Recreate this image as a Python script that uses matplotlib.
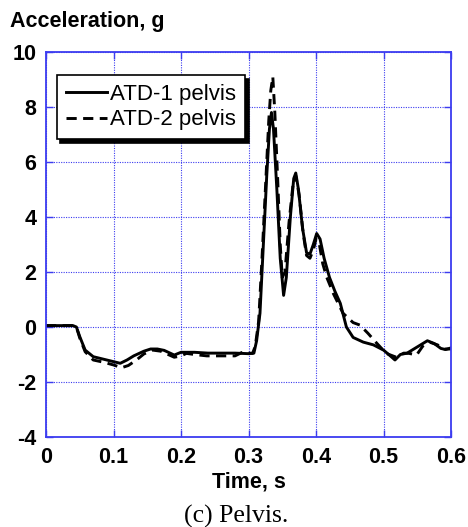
import matplotlib
matplotlib.use("Agg")
import matplotlib.pyplot as plt

# ---- data ----
t1 = [0, 0.04, 0.045, 0.05, 0.058, 0.07, 0.09, 0.11, 0.12, 0.13, 0.145, 0.155, 0.165,
      0.175, 0.19, 0.2, 0.22, 0.24, 0.26, 0.28, 0.3, 0.308, 0.312, 0.317, 0.322, 0.327,
      0.331, 0.334, 0.337, 0.342, 0.347, 0.352, 0.356, 0.362, 0.367, 0.370, 0.374, 0.380,
      0.386, 0.391, 0.396, 0.401, 0.406, 0.412, 0.42, 0.428, 0.436, 0.445, 0.455, 0.47,
      0.485, 0.5, 0.51, 0.517, 0.525, 0.535, 0.545, 0.555, 0.565, 0.575, 0.585, 0.592, 0.6]
atd1 = [0.05, 0.05, 0.0, -0.35, -0.84, -1.08, -1.2, -1.32, -1.2, -1.05, -0.88, -0.8, -0.8,
        -0.85, -1.02, -0.92, -0.92, -0.95, -0.95, -0.95, -0.97, -0.95, -0.5, 0.5, 3.0, 5.5,
        7.2, 7.8, 7.2, 5.0, 2.5, 1.15, 1.8, 4.0, 5.4, 5.6, 5.0, 3.6,
        2.7, 2.65, 3.0, 3.4, 3.2, 2.5, 1.8, 1.3, 0.86, 0.0, -0.38, -0.55,
        -0.65, -0.84, -1.05, -1.2, -1.0, -0.95, -0.8, -0.65, -0.5, -0.6, -0.78, -0.82, -0.76]

t2 = [0, 0.04, 0.045, 0.05, 0.058, 0.07, 0.085, 0.1, 0.112, 0.122, 0.134, 0.145, 0.158,
      0.17, 0.19, 0.2, 0.208, 0.22, 0.238, 0.26, 0.28, 0.29, 0.306, 0.31, 0.315, 0.32,
      0.325, 0.33, 0.333, 0.336, 0.339, 0.343, 0.347, 0.35, 0.354, 0.36, 0.366, 0.370,
      0.375, 0.381, 0.386, 0.391, 0.396, 0.400, 0.405, 0.41, 0.416, 0.426, 0.44, 0.455,
      0.465, 0.477, 0.49, 0.504, 0.519, 0.53, 0.538, 0.549, 0.558, 0.568, 0.58, 0.59, 0.6]
atd2 = [0.05, 0.05, 0.0, -0.4, -0.9, -1.2, -1.28, -1.38, -1.48, -1.4, -1.2, -0.98, -0.84,
        -0.88, -1.1, -1.05, -0.96, -1.0, -1.05, -1.05, -1.05, -0.93, -0.96, -0.7, 0.2, 2.5,
        5.0, 7.5, 8.6, 9.1, 7.8, 5.5, 3.0, 1.8, 2.0, 3.8, 5.2, 5.5,
        4.8, 3.4, 2.6, 2.5, 2.8, 3.2, 3.0, 2.3, 1.8, 1.2, 0.5, 0.16,
        0.07, -0.23, -0.59, -0.96, -1.1, -0.95, -0.96, -1.02, -0.7, -0.55, -0.65, -0.8, -0.8]

labels = ["ATD-1 pelvis", "ATD-2 pelvis"]
xticks = [0, 0.1, 0.2, 0.3, 0.4, 0.5, 0.6]
xticklabels = ["0", "0.1", "0.2", "0.3", "0.4", "0.5", "0.6"]
yticks = [-4, -2, 0, 2, 4, 6, 8, 10]

# ---- figure ----
plt.rcParams['font.family'] = ['Liberation Sans', 'DejaVu Sans']
plt.rcParams['axes.unicode_minus'] = False
blue = '#3c3cf0'

fig = plt.figure(figsize=(4.68, 5.27), dpi=100)
ax = fig.add_axes([0.0983, 0.1708, 0.8654, 0.7305])

ax.plot(t1, atd1, color='black', lw=2.1, label=labels[0])
ax.plot(t2, atd2, color='black', lw=2.1, ls=(0, (3.5, 2.2)), label=labels[1])

ax.set_xlim(0, 0.6)
ax.set_ylim(-4, 10)
ax.set_xticks(xticks)
ax.set_xticklabels(xticklabels)
ax.set_yticks(yticks)
for lab in ax.get_xticklabels() + ax.get_yticklabels():
    lab.set_fontweight('bold')
    lab.set_fontsize(15.5)
ax.tick_params(direction='in', color=blue, length=5, width=1.0, pad=7)
ax.tick_params(top=True, right=True, which='both')
for s in ax.spines.values():
    s.set_color(blue)
    s.set_linewidth(1.3)
ax.grid(True, color=blue, ls=(0, (1, 1.2)), lw=0.8)
ax.set_axisbelow(True)

ax.set_xlabel("Time, s", fontsize=15.5, fontweight='bold', labelpad=3)

fig.text(10 / 468, 1 - 27 / 527, "Acceleration, g", fontsize=15.5, fontweight='bold',
         ha='left', va='baseline')
fig.text(236 / 468, 1 - 523 / 527, "(c) Pelvis.", fontsize=18.5,
         family=['Liberation Serif', 'DejaVu Serif'], ha='center', va='baseline')

leg = ax.legend(loc='upper left', bbox_to_anchor=(0.027, 0.940), fontsize=16,
                fancybox=False, framealpha=1, edgecolor='black',
                shadow={'color': 'black', 'alpha': 1, 'ox': 2.5, 'oy': -2.5},
                handlelength=1.85, handletextpad=0.15, borderpad=0.4,
                labelspacing=0.2, borderaxespad=0)
leg.get_frame().set_linewidth(1.2)

fig.savefig("out.png", dpi=100)
